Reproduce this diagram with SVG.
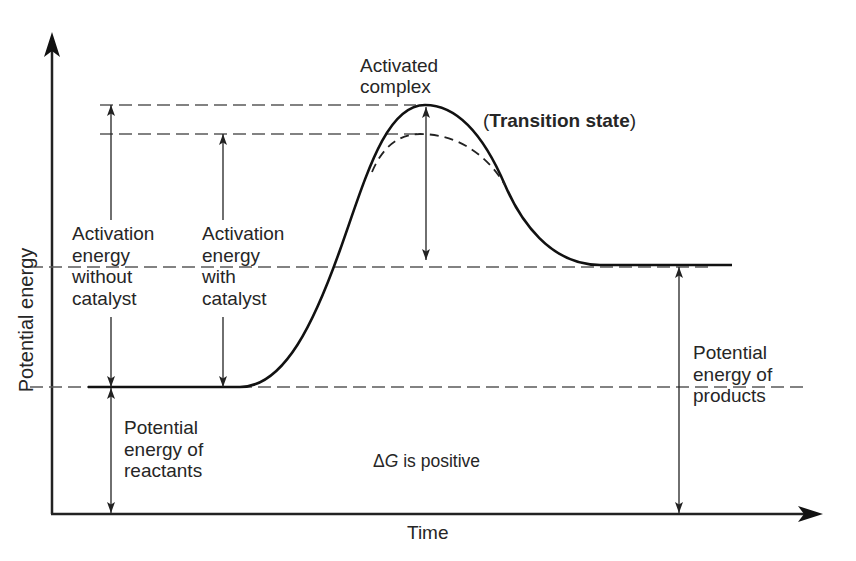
<svg xmlns="http://www.w3.org/2000/svg" width="856" height="561" viewBox="0 0 856 561">
<style>
  .t{font-family:"Liberation Sans",Arial,sans-serif;font-size:19px;fill:#262626}
  .b{font-weight:bold}
  .axis{stroke:#222;stroke-width:2.5;fill:none}
  .dash{stroke:#5a5a5a;stroke-width:1.6;stroke-dasharray:13 6;fill:none}
  .curve{stroke:#111;stroke-width:2.6;fill:none;stroke-linejoin:round}
  .dcurve{stroke:#222;stroke-width:1.8;stroke-dasharray:9 6;fill:none}
  .arr{stroke:#222;stroke-width:1.3;fill:none}
</style>
<defs>
  <marker id="ah" markerUnits="userSpaceOnUse" markerWidth="12" markerHeight="8" refX="11" refY="4" orient="auto-start-reverse">
    <path d="M0,0 L11,4 L0,8 L2.5,4 Z" fill="#222"/>
  </marker>
  <marker id="big" markerUnits="userSpaceOnUse" markerWidth="26" markerHeight="16" refX="12" refY="8" orient="auto">
    <path d="M0,0 L25,8 L0,16 L6,8 Z" fill="#111"/>
  </marker>
</defs>
<rect width="856" height="561" fill="#fff"/>

<g id="axes">
  <path class="axis" d="M52,514 V45" marker-end="url(#big)"/>
  <path class="axis" d="M51,514 H810" marker-end="url(#big)"/>
</g>

<g id="levels">
  <path class="dash" d="M100,105 H416"/>
  <path class="dash" d="M100,134 H420"/>
  <path class="dash" d="M30,267 H713"/>
  <path class="dash" d="M30,387 H805"/>
</g>

<g id="curves">
  <path class="curve" d="M88,387 H240 C285,387 315,320 340,250 C365,180 385,105 425,105 C465,105 490,150 505,185 C520,220 550,265 600,265 H732"/>
  <path class="dcurve" d="M372,172 C382,148 398,134 420,134 C455,134 485,152 505,185"/>
</g>

<g id="connectors">
  <path class="arr" d="M111,220 V105" marker-end="url(#ah)"/>
  <path class="arr" d="M111,317 V387" marker-end="url(#ah)"/>
  <path class="arr" d="M111,388 V513" marker-start="url(#ah)" marker-end="url(#ah)"/>
  <path class="arr" d="M223,220 V134" marker-end="url(#ah)"/>
  <path class="arr" d="M223,317 V387" marker-end="url(#ah)"/>
  <path class="arr" d="M426,107 V260" marker-start="url(#ah)" marker-end="url(#ah)"/>
  <path class="arr" d="M679,267 V513" marker-start="url(#ah)" marker-end="url(#ah)"/>
</g>

<g id="label-activated-complex">
  <text class="t" x="360" y="72">Activated</text>
  <text class="t" x="360" y="93">complex</text>
</g>
<g id="label-transition-state">
  <text class="t" x="483" y="127">(<tspan class="b">Transition state</tspan>)</text>
</g>
<g id="label-without-catalyst">
  <text class="t" x="72" y="240">Activation</text>
  <text class="t" x="72" y="261.7">energy</text>
  <text class="t" x="72" y="283.3">without</text>
  <text class="t" x="72" y="305">catalyst</text>
</g>
<g id="label-with-catalyst">
  <text class="t" x="202" y="240">Activation</text>
  <text class="t" x="202" y="261.7">energy</text>
  <text class="t" x="202" y="283.3">with</text>
  <text class="t" x="202" y="305">catalyst</text>
</g>
<g id="label-reactants">
  <text class="t" x="124" y="434">Potential</text>
  <text class="t" x="124" y="455.5">energy of</text>
  <text class="t" x="124" y="477">reactants</text>
</g>
<g id="label-products">
  <text class="t" x="693" y="359">Potential</text>
  <text class="t" x="693" y="380.5">energy of</text>
  <text class="t" x="693" y="402">products</text>
</g>
<g id="label-delta-g">
  <text class="t" x="373" y="467" style="font-size:17.5px">Δ<tspan font-style="italic">G</tspan> is positive</text>
</g>
<g id="label-time">
  <text class="t" x="407" y="539">Time</text>
</g>
<g id="label-potential-energy">
  <text class="t" transform="translate(33,320) rotate(-90)" text-anchor="middle" style="font-size:20px">Potential energy</text>
</g>
</svg>
